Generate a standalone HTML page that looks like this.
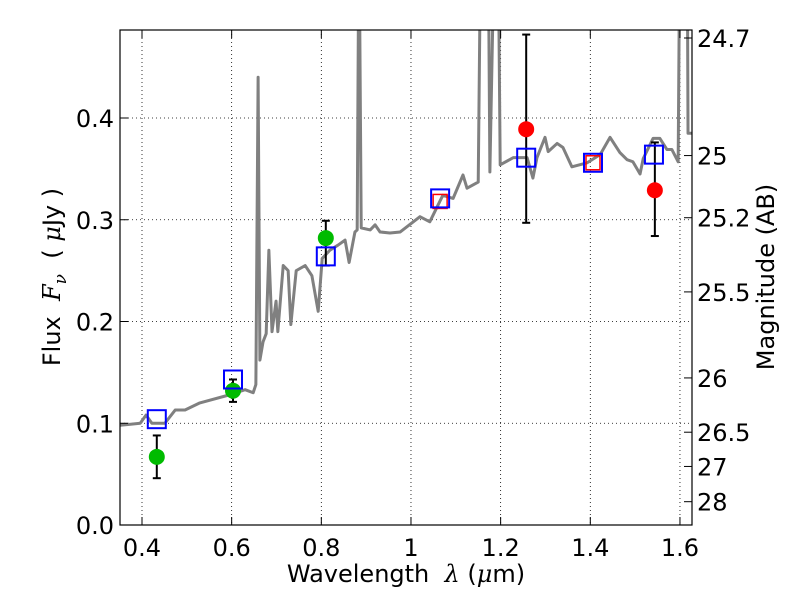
<!DOCTYPE html>
<html><head><meta charset="utf-8"><style>
body{margin:0;background:#fff}
text{font-family:"DejaVu Sans","Liberation Sans",sans-serif;fill:#000}
</style></head><body>
<svg id="chart" width="800" height="600" xmlns="http://www.w3.org/2000/svg" font-family="DejaVu Sans, Liberation Sans, sans-serif">
<defs><clipPath id="clip"><rect x="120" y="30" width="572" height="495"/></clipPath></defs>
<rect x="0" y="0" width="800" height="600" fill="#fff"/>
<g id="grid"></g>
<g id="spec" clip-path="url(#clip)"></g>
<g id="marks"></g>
<rect x="120" y="30" width="572" height="495" fill="none" stroke="#000" stroke-width="1.2"/>
<g id="axes"></g>
<text x="406" y="582" font-size="24" text-anchor="middle">Wavelength&#160; <tspan font-family="DejaVu Serif" font-style="italic">λ</tspan> (<tspan font-family="DejaVu Serif" font-style="italic">μ</tspan>m)</text>
<text transform="translate(60,277) rotate(-90)" font-size="24" text-anchor="middle">Flux&#160; <tspan font-family="DejaVu Serif" font-style="italic">F<tspan font-size="17" dy="6">ν</tspan></tspan><tspan dy="-6">&#160; (&#160;</tspan><tspan font-family="DejaVu Serif" font-style="italic">μ</tspan>Jy )</text>
<text transform="translate(774,277) rotate(-90)" font-size="24" text-anchor="middle">Magnitude (AB)</text>
</svg>
<script>
const specWave=[0.351,0.396,0.409,0.422,0.451,0.474,0.496,0.529,0.596,0.630,0.648,0.654,0.659,0.663,0.670,0.677,0.683,0.690,0.699,0.703,0.715,0.726,0.732,0.744,0.764,0.779,0.793,0.802,0.819,0.837,0.853,0.862,0.875,0.880,0.884,0.889,0.909,0.920,0.931,0.953,0.976,1.020,1.042,1.071,1.094,1.116,1.125,1.150,1.156,1.172,1.176,1.187,1.194,1.199,1.228,1.259,1.272,1.281,1.299,1.306,1.326,1.339,1.359,1.393,1.422,1.444,1.466,1.482,1.495,1.511,1.518,1.540,1.555,1.571,1.582,1.596,1.600,1.616,1.618,1.627];
const specFlux=[0.098,0.100,0.108,0.100,0.100,0.113,0.113,0.120,0.128,0.133,0.130,0.138,0.440,0.162,0.180,0.188,0.270,0.190,0.220,0.190,0.255,0.250,0.197,0.250,0.255,0.245,0.210,0.262,0.270,0.275,0.280,0.258,0.288,0.290,0.600,0.292,0.290,0.295,0.288,0.287,0.288,0.303,0.298,0.324,0.321,0.344,0.331,0.337,0.600,0.600,0.347,0.600,0.600,0.354,0.361,0.361,0.341,0.361,0.381,0.367,0.375,0.371,0.352,0.356,0.364,0.381,0.366,0.359,0.357,0.345,0.360,0.380,0.380,0.369,0.369,0.357,0.600,0.600,0.385,0.385];
const obsWave=[0.433,0.603,0.810,1.257,1.544];
const obsFlux=[0.067,0.132,0.282,0.389,0.329];
const obsLo=[0.046,0.121,0.255,0.297,0.284];
const obsHi=[0.088,0.143,0.299,0.482,0.376];
const obsColor=['#00bb00','#00bb00','#00bb00','#ff0000','#ff0000'];
const modelWave=[0.433,0.603,0.810,1.065,1.257,1.406,1.542];
const modelFlux=[0.104,0.143,0.264,0.321,0.361,0.356,0.364];
const limWave=[1.065,1.406];
const limFlux=[0.318,0.356];
const xTicks=[0.4,0.6,0.8,1.0,1.2,1.4,1.6];
const xTickLabels=['0.4','0.6','0.8','1','1.2','1.4','1.6'];
const yTicks=[0.0,0.1,0.2,0.3,0.4];
const magTicks=[24.7,25,25.2,25.5,26,26.5,27,28];
const NS='http://www.w3.org/2000/svg';
const X=v=>142+(v-0.4)*448.3;
const Y=v=>525-v*1017.5;
const magY=m=>Y(Math.pow(10,(23.9-m)/2.5));
function mk(t,a,p){const e=document.createElementNS(NS,t);for(const k in a)e.setAttribute(k,a[k]);p.appendChild(e);return e;}
const grid=document.getElementById('grid'),axes=document.getElementById('axes'),spec=document.getElementById('spec'),marks=document.getElementById('marks');
xTicks.forEach((v,i)=>{
 const g=mk('line',{x1:X(v),x2:X(v),y1:30,y2:525,stroke:'#000','stroke-width':0.8,'stroke-dasharray':'1,3'},grid);
 
 
 mk('line',{x1:X(v),x2:X(v),y1:525,y2:517,stroke:'#000'},axes);
 mk('line',{x1:X(v),x2:X(v),y1:30,y2:38,stroke:'#000'},axes);
 const t=mk('text',{x:X(v),y:556,'text-anchor':'middle','font-size':'24'},axes);t.textContent=xTickLabels[i];
 
 
});
yTicks.forEach(v=>{
 const g=mk('line',{x1:120,x2:692,y1:Y(v),y2:Y(v),stroke:'#000','stroke-width':0.8,'stroke-dasharray':'1,3'},grid);
 
 
 mk('line',{x1:120,x2:128,y1:Y(v),y2:Y(v),stroke:'#000'},axes);
 const t=mk('text',{x:114,y:Y(v)+9,'text-anchor':'end','font-size':'24'},axes);t.textContent=v.toFixed(1);
 
 
});
magTicks.forEach(m=>{
 const y=magY(m);
 mk('line',{x1:684,x2:692,y1:y,y2:y,stroke:'#000'},axes);
 const t=mk('text',{x:697,y:y+9,'font-size':'24'},axes);t.textContent=String(m);
 
 
});
const pl=mk('polyline',{points:specWave.map((w,i)=>X(w)+','+Y(specFlux[i])).join(' '),fill:'none',stroke:'#808080','stroke-width':3,'stroke-linejoin':'round'},spec);


obsWave.forEach((w,i)=>{
 const x=X(w);
 mk('line',{x1:x,x2:x,y1:Y(obsLo[i]),y2:Y(obsHi[i]),stroke:'#000','stroke-width':2},marks);
 mk('line',{x1:x-4,x2:x+4,y1:Y(obsLo[i]),y2:Y(obsLo[i]),stroke:'#000','stroke-width':2},marks);
 mk('line',{x1:x-4,x2:x+4,y1:Y(obsHi[i]),y2:Y(obsHi[i]),stroke:'#000','stroke-width':2},marks);
 const c=mk('circle',{cx:x,cy:Y(obsFlux[i]),r:8,fill:obsColor[i]},marks);
 
 
});
limWave.forEach((w,i)=>{
 const r=mk('rect',{x:X(w)-7,y:Y(limFlux[i])-7,width:14,height:14,fill:'none',stroke:'#ff0000','stroke-width':1.5},marks);
 
 
});
modelWave.forEach((w,i)=>{
 const r=mk('rect',{x:X(w)-9,y:Y(modelFlux[i])-9,width:18,height:18,fill:'none',stroke:'#0000ff','stroke-width':2},marks);
 
 
});
</script>
</body></html>
